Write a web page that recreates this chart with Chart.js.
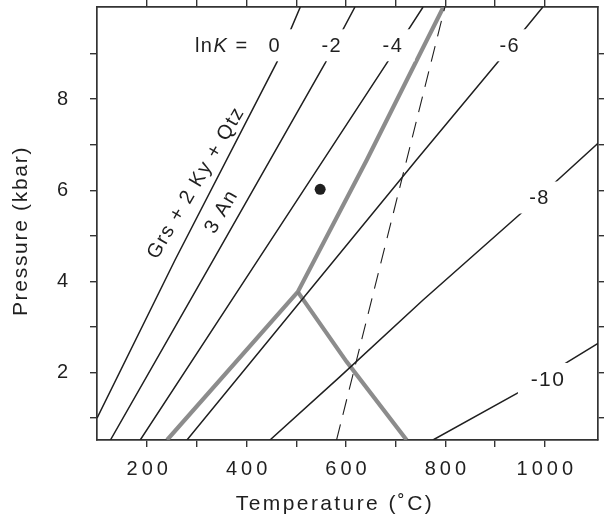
<!DOCTYPE html>
<html>
<head>
<meta charset="utf-8">
<script src="https://cdn.jsdelivr.net/npm/chart.js@4/dist/chart.umd.min.js"></script>
<style>
  html, body { margin: 0; padding: 0; background: #fff; }
</style>
</head>
<body>
<canvas id="chart" width="605" height="519"></canvas>
<script>
// ─── DATA (temperature °C, pressure kbar) ─────────────────────────────────────
const xTickValues = [200, 300, 400, 500, 600, 700, 800, 900, 1000];
const yTickValues = [1, 2, 3, 4, 5, 6, 7, 8, 9];

// lnK isopleths
const lnK0_T   = [99, 256, 461, 508];
const lnK0_P   = [1.0, 4.47, 8.81, 10.02];
const lnK2_T   = [126, 333, 558, 618];
const lnK2_P   = [0.52, 4.47, 8.79, 10.02];
const lnK4_T   = [186, 423, 684, 755];
const lnK4_P   = [0.52, 4.47, 8.82, 10.02];
const lnK6_T   = [280, 742, 906, 996];
const lnK6_P   = [0.52, 6.67, 8.82, 10.02];
const lnK8_T   = [447, 588, 755, 963, 1107];
const lnK8_P   = [0.52, 1.91, 3.59, 5.6, 7.03];
const lnK10_T  = [775, 963, 1047, 1107];
const lnK10_P  = [0.52, 1.66, 2.24, 2.64];

// grey reaction curves
const curveA_T = [240, 503, 642, 796];
const curveA_P = [0.52, 3.77, 6.67, 10.02];
const curveB_T = [503, 601, 722];
const curveB_P = [3.77, 2.24, 0.52];

// dashed line
const dashed_T = [581, 799];
const dashed_P = [0.52, 10.02];

// sample point
const sample_T = [548];
const sample_P = [6.02];

// labels
const isoLabels = ['0', '-2', '-4', '-6', '-8', '-10'];
const isoLabel_T = [455, 570, 693, 928, 988, 1005];
const isoLabel_P = [9.18, 9.18, 9.18, 9.18, 5.84, 1.86];

// ─── STYLE ────────────────────────────────────────────────────────────────────
const FONT = '"Liberation Sans", Arial, Helvetica, sans-serif';
const INK = '#1f1f1f';
const AXIS = '#333';
const GREY = 'rgba(128,128,128,0.9)';

const pts = (T, P) => T.map((t, i) => ({ x: t, y: P[i] }));

function lineSet(T, P, extra) {
    return Object.assign({
        data: pts(T, P),
        showLine: true,
        pointRadius: 0,
        borderColor: INK,
        borderWidth: 1.5,
        fill: false,
        tension: 0
    }, extra || {});
}

// ─── PLUGINS ──────────────────────────────────────────────────────────────────
const tickSpacing = {
    id: 'tickSpacing',
    beforeDraw(chart) { chart.ctx.letterSpacing = '4px'; }
};

const annotations = {
    id: 'annotations',
    afterDatasetsDraw(chart) {
        const ctx = chart.ctx;
        const xs = chart.scales.x, ys = chart.scales.y;
        ctx.save();
        ctx.letterSpacing = '1.5px';
        ctx.textBaseline = 'middle';
        ctx.textAlign = 'center';

        // gaps in the lines behind the lnK labels
        isoLabels.forEach((lab, i) => {
            const size = lab === '-10' ? 21 : 20;
            ctx.font = size + 'px ' + FONT;
            const w = ctx.measureText(lab).width;
            const cx = xs.getPixelForValue(isoLabel_T[i]);
            const cy = ys.getPixelForValue(isoLabel_P[i]);
            ctx.fillStyle = '#fff';
            ctx.fillRect(cx - w / 2 - 12, cy - 16, w + 24, 32);
            ctx.fillStyle = INK;
            ctx.fillText(lab, cx + 0.75, cy + 1);
        });

        // "lnK ="
        ctx.textAlign = 'left';
        ctx.fillStyle = INK;
        let x = xs.getPixelForValue(296);
        const y = ys.getPixelForValue(9.18) + 1;
        ctx.font = '20px ' + FONT;
        ctx.fillText('ln', x, y);
        x += ctx.measureText('ln').width;
        ctx.font = 'italic 20px ' + FONT;
        ctx.fillText('K', x, y);
        x += ctx.measureText('K').width;
        ctx.font = '20px ' + FONT;
        ctx.fillText(' =', x, y);

        // reaction text along lnK = 0
        ctx.textAlign = 'center';
        ctx.font = '20px ' + FONT;
        const rot = -59.5 * Math.PI / 180;
        [['Grs + 2 Ky + Qtz', 298.5, 6.16], ['3 An', 350, 5.53]].forEach(([t, T, P]) => {
            ctx.save();
            ctx.translate(xs.getPixelForValue(T), ys.getPixelForValue(P));
            ctx.rotate(rot);
            ctx.fillText(t, 0, 0);
            ctx.restore();
        });
        ctx.restore();
    },
    afterDraw(chart) {
        const ctx = chart.ctx;
        ctx.save();
        ctx.fillStyle = INK;
        ctx.font = '21px ' + FONT;
        ctx.textAlign = 'center';
        ctx.textBaseline = 'alphabetic';
        ctx.letterSpacing = '2.4px';
        ctx.fillText('Temperature (\u02DAC)', 335, 510);
        ctx.letterSpacing = '1.7px';
        ctx.translate(27, 231);
        ctx.rotate(-Math.PI / 2);
        ctx.fillText('Pressure (kbar)', 0, 0);
        ctx.restore();
    }
};

// ─── AXES ─────────────────────────────────────────────────────────────────────
function axis(position, size, tickLen, showLabels) {
    const horizontal = position === 'top' || position === 'bottom';
    const values = horizontal ? xTickValues : yTickValues;
    return {
        type: 'linear',
        position,
        min: horizontal ? 99 : 0.52,
        max: horizontal ? 1107 : 10.02,
        afterBuildTicks: s => { s.ticks = values.map(v => ({ value: v })); },
        afterFit: s => {
            if (horizontal) s.height = size; else s.width = size;
            s.paddingTop = s.paddingBottom = s.paddingLeft = s.paddingRight = 0;
        },
        grid: { drawOnChartArea: false, drawTicks: true, tickLength: tickLen, color: AXIS, lineWidth: 1.4 },
        border: { display: true, color: AXIS, width: 1.7 },
        ticks: {
            display: showLabels,
            autoSkip: false,
            maxRotation: 0,
            color: INK,
            font: { family: FONT, size: 20 },
            padding: horizontal ? 10 : 18,
            labelOffset: horizontal ? 2 : 0,
            callback: v => (horizontal ? v % 200 === 0 : v % 2 === 0) ? String(v) : ''
        }
    };
}

// ─── CHART ────────────────────────────────────────────────────────────────────
new Chart(document.getElementById('chart'), {
    type: 'scatter',
    data: {
        datasets: [
            { data: pts(sample_T, sample_P), pointRadius: 5.5, backgroundColor: INK, borderWidth: 0, showLine: false },
            lineSet(lnK0_T, lnK0_P),
            lineSet(lnK2_T, lnK2_P),
            lineSet(lnK4_T, lnK4_P),
            lineSet(lnK6_T, lnK6_P),
            lineSet(lnK8_T, lnK8_P),
            lineSet(lnK10_T, lnK10_P),
            lineSet(dashed_T, dashed_P, { borderWidth: 1.1, borderDash: [16, 10] }),
            lineSet(curveA_T, curveA_P, { borderColor: GREY, borderWidth: 4.2 }),
            lineSet(curveB_T, curveB_P, { borderColor: GREY, borderWidth: 4.2 })
        ]
    },
    options: {
        responsive: false,
        animation: false,
        devicePixelRatio: 1,
        layout: { padding: 0 },
        plugins: { legend: { display: false }, tooltip: { enabled: false } },
        scales: {
            x: axis('bottom', 79, 7, true),
            x2: axis('top', 7, 7, false),
            y: axis('left', 97, 7, true),
            y2: axis('right', 7, 6, false)
        }
    },
    plugins: [tickSpacing, annotations]
});
</script>
</body>
</html>
